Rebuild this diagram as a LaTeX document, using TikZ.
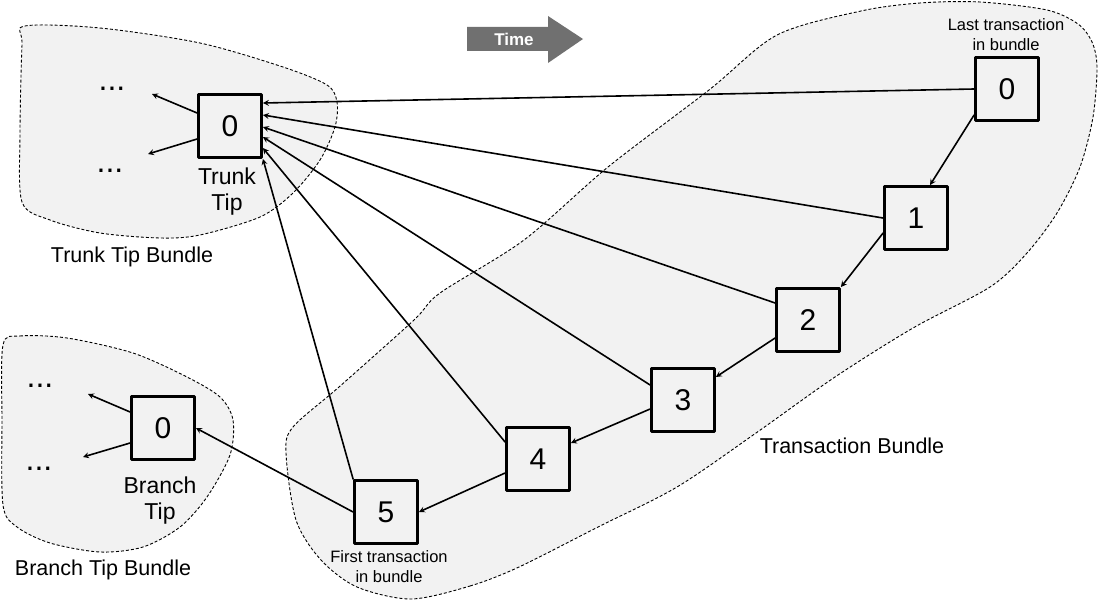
\documentclass[tikz,border=0pt]{standalone}
\usepackage{fontspec}
\setmainfont{Liberation Sans}
\definecolor{bundlegray}{RGB}{242,242,242}
\definecolor{timegray}{RGB}{112,112,112}
\tikzset{
	txbox/.style={draw, line width=2.8pt, fill=bundlegray, minimum size=63pt, inner sep=0pt, font=\fontsize{30}{36}\selectfont},
	bundle/.style={draw, dash pattern=on 3pt off 2pt, line width=0.9pt, line cap=butt, fill=bundlegray},
	link/.style={->, line width=1.6pt},
	tiplabel/.style={align=center, font=\fontsize{23}{26}\selectfont},
	bundlelabel/.style={font=\fontsize{21.5}{26}\selectfont},
	note/.style={align=center, font=\fontsize{16.5}{20}\selectfont},
	more/.style={anchor=base, font=\fontsize{32}{36}\selectfont}
}
\begin{document}
\begin{tikzpicture}[x=1pt, y=-1pt, >=stealth, line join=round, line cap=round]
				\useasboundingbox (0,0) rectangle (1099,602);
				% bundles
				\draw [bundle] plot [smooth cycle] coordinates {(25,26) (100,28) (200,43) (283,67) (327,85) (337,102) (335,127) (320,160) (293,193) (260,217) (200,235) (160,238) (100,233) (50,220) (22,202) (20,133) (22,45)};
				\draw [bundle] plot [smooth cycle] coordinates {(3,345) (20,336) (67,338) (133,353) (187,377) (220,397) (233,420) (230,455) (207,497) (180,527) (143,547) (100,552) (50,543) (17,527) (3,505) (2,420)};
				\draw [bundle] plot [smooth cycle] coordinates {(411,599) (470,586) (519,567) (598,527) (677,487) (756,433) (835,377) (913,328) (990,287) (1027,253) (1057,213) (1080,167) (1093,117) (1097,67) (1092,42) (1078,24) (1047,10) (980,2) (920,3) (861,11) (777,35) (709,90) (608,167) (524,240) (440,293) (414,320) (339,387) (293,427) (286,453) (296,520) (321,560) (357,587)};
				% time
				\fill [timegray] (467,27)--(548,27)--(548,16)--(583,39)--(548,63)--(548,51)--(467,51)--cycle;
				\node [text=white, font=\bfseries\fontsize{17}{20}\selectfont] (time) at (514,39) {Time};
				% transactions
				\node [txbox] (t0) at (1007,89) {0};
				\node [txbox] (t1) at (916,218) {1};
				\node [txbox] (t2) at (808,320) {2};
				\node [txbox] (t3) at (683,400) {3};
				\node [txbox] (t4) at (538,459) {4};
				\node [txbox] (t5) at (386,512) {5};
				\node [txbox] (trunk) at (230,126) {0};
				\node [txbox] (branch) at (163,428) {0};
				% labels
				\node [note] (last) at (1006,35) {Last transaction\\in bundle};
				\node [note] (first) at (389,567) {First transaction\\in bundle};
				\node [tiplabel] (trunk-lbl) at (227,192) {Trunk\\Tip};
				\node [tiplabel] (branch-lbl) at (160,501) {Branch\\Tip};
				\node [bundlelabel] (trunk-bdl) at (132,257) {Trunk Tip Bundle};
				\node [bundlelabel] (branch-bdl) at (103,570) {Branch Tip Bundle};
				\node [bundlelabel] (tx-bdl) at (852,446) {Transaction Bundle};
				\node [more] (trunk-m1) at (112,90) {...};
				\node [more] (trunk-m2) at (110,172) {...};
				\node [more] (branch-m1) at (40,387) {...};
				\node [more] (branch-m2) at (39,470) {...};
				% free ends
				\coordinate (trunk-up) at (152,94);
				\coordinate (trunk-down) at (148,154);
				\coordinate (branch-up) at (88,394);
				\coordinate (branch-down) at (83,457);
				% arrows to trunk tip
				\draw [link] (t0.west)--([yshift=23pt]trunk.east);
				\draw [link] (t1.west)--([yshift=11pt]trunk.east);
				\draw [link] ([yshift=17pt]t2.west)--([yshift=-1pt]trunk.east);
				\draw [link] ([yshift=15pt]t3.west)--([yshift=-11pt]trunk.east);
				\draw [link] ([yshift=17pt]t4.west)--([yshift=-22pt]trunk.east);
				\draw [link] (t5.north west)--(trunk.south east);
				% chain
				\draw [link] ([yshift=-26pt]t0.west)--([xshift=14pt]t1.north);
				\draw [link] ([yshift=-15pt]t1.west)--(t2.north east);
				\draw [link] ([yshift=-18pt]t2.west)--([yshift=23pt]t3.east);
				\draw [link] ([yshift=-9pt]t3.west)--([yshift=16pt]t4.east);
				\draw [link] ([yshift=-14pt]t4.west)--(t5.east);
				\draw [link] (t5.west)--(branch.east);
				% tips
				\draw [link] ([yshift=13pt]trunk.west)--(trunk-up);
				\draw [link] ([yshift=-13pt]trunk.west)--(trunk-down);
				\draw [link] ([yshift=16pt]branch.west)--(branch-up);
				\draw [link] ([yshift=-15pt]branch.west)--(branch-down);
			\end{tikzpicture}
\end{document}
